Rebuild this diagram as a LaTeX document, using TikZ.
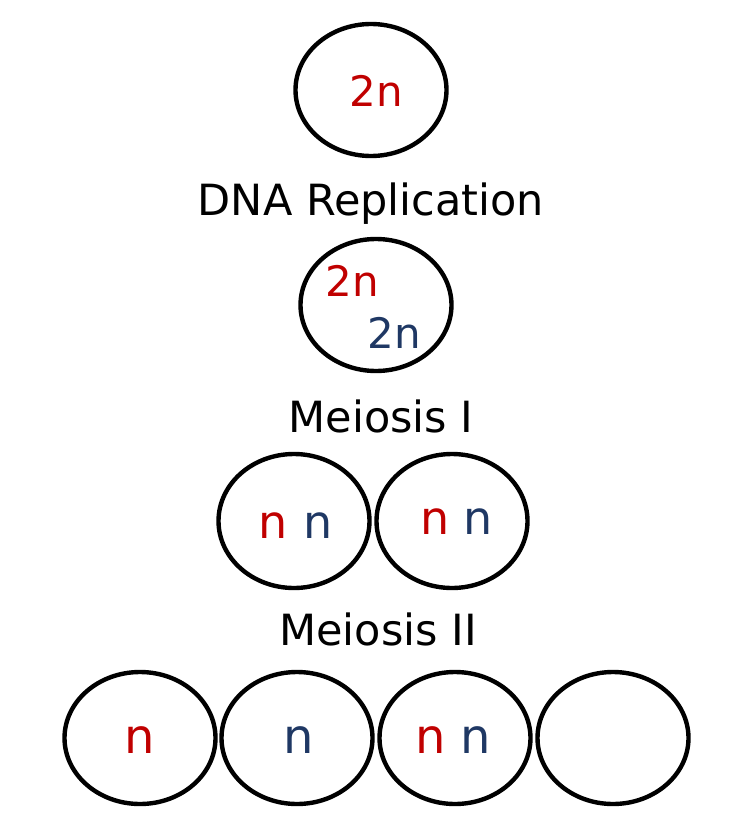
\documentclass[tikz,border=0pt]{standalone}
\usepackage{fontspec}
\setmainfont{DejaVu Sans}
\usepackage{tikz}
\usetikzlibrary{shapes.geometric}
\definecolor{chromred}{HTML}{C00000}
\definecolor{chromblue}{HTML}{1F3864}
\tikzset{cell/.style={draw=black, line width=4.4pt, ellipse, inner sep=0pt,
           minimum width=151pt, minimum height=132pt},
     stage label/.style={anchor=base, inner sep=0pt, font=\fontsize{43}{50}\selectfont},
     ploidy/.style={anchor=base, inner sep=0pt, font=\fontsize{42}{48}\selectfont},
     chrom/.style={anchor=base, inner sep=0pt, font=\fontsize{#1}{50}\selectfont},
     chrom/.default=46
     }

\begin{document}
\begin{tikzpicture}[x=1pt, y=-1pt]
\useasboundingbox (0,0) rectangle (744,816);
% parent cell
\node[cell] (Parent) at (371,90) {};
\node[ploidy, text=chromred] (ParentRed) at (376,106) {2n};
\node[stage label] (Replication) at (371,215) {DNA Replication};
% after replication
\node[cell] (Replicated) at (376,305) {};
\node[ploidy, text=chromred] (ReplRed) at (352,296) {2n};
\node[ploidy, text=chromblue] (ReplBlue) at (394,348) {2n};
\node[stage label] (MeiosisOne) at (381,432) {Meiosis I};
% meiosis I
\node[cell, minimum height=134pt] (DaughterA) at (294,521) {};
\node[cell, minimum height=134pt] (DaughterB) at (452,521) {};
\node[chrom, text=chromred] (DaughterARed) at (273,538) {n};
\node[chrom, text=chromblue] (DaughterABlue) at (318,538) {n};
\node[chrom, text=chromred] (DaughterBRed) at (435,534) {n};
\node[chrom, text=chromblue] (DaughterBBlue) at (478,534) {n};
\node[stage label] (MeiosisTwo) at (378,645) {Meiosis II};
% meiosis II
\foreach \x/\name in {140/GameteA, 297/GameteB, 455/GameteC, 613/GameteD}
  \node[cell] (\name) at (\x,738) {};
\node[chrom=48, text=chromred] (GameteARed) at (140,753) {n};
\node[chrom=48, text=chromblue] (GameteBBlue) at (299,753) {n};
\node[chrom=48, text=chromred] (GameteCRed) at (431,753) {n};
\node[chrom=48, text=chromblue] (GameteCBlue) at (476,753) {n};
\end{tikzpicture}
\end{document}
